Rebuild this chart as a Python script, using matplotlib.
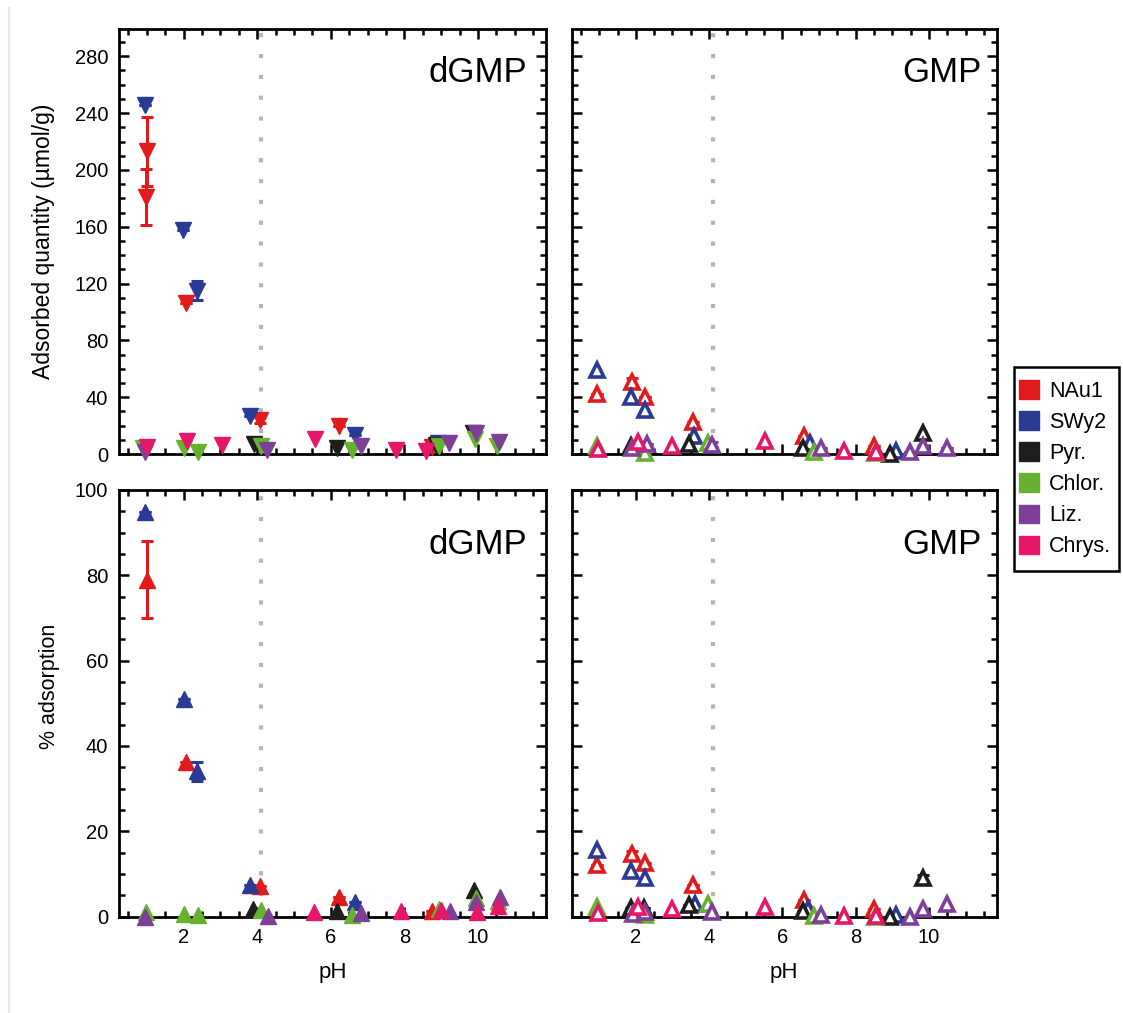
import matplotlib
matplotlib.use("Agg")
import matplotlib.pyplot as plt
from matplotlib.patches import Patch, Rectangle
from matplotlib.lines import Line2D
from matplotlib.ticker import MultipleLocator

plt.rcParams['font.family'] = ['Liberation Sans', 'DejaVu Sans']

minerals = ["NAu1", "SWy2", "Pyr.", "Chlor.", "Liz.", "Chrys."]
colors = ["#e31a1c", "#2b3a94", "#1e1e1e", "#66b22e", "#7d3f97", "#e6176a"]

# dGMP, adsorbed quantity (umol/g)
dq_min = ["NAu1"] * 6 + ["SWy2"] * 6 + ["Pyr."] * 4 + ["Chlor."] * 8 + ["Liz."] * 6 + ["Chrys."] * 6
dq_ph = [1.00, 0.97, 2.07, 4.07, 6.23, 8.76,
         0.96, 1.98, 2.35, 3.81, 6.65, 8.91,
         3.90, 6.17, 8.85, 9.86,
         0.90, 2.00, 2.38, 4.10, 6.58, 8.94, 9.91, 10.53,
         0.94, 4.27, 6.83, 9.21, 9.94, 10.57,
         1.00, 2.10, 3.04, 5.56, 7.76, 8.58]
dq_val = [213, 181, 106.5, 24, 19.5, 5,
          245.5, 158, 115, 27, 13.5, 7.5,
          7, 4.5, 6.5, 14.5,
          4.5, 4, 1.5, 6, 2.5, 6, 10.5, 5.5,
          1.5, 3, 6, 7.5, 14.5, 8.5,
          5, 9.5, 6.5, 10.5, 2.5, 2]
dq_err = [24, 19.5, 0, 2, 0, 0,
          0, 0, 6.7, 0, 0, 0,
          0, 0, 0, 0,
          0, 0, 0, 0, 0, 0, 0, 0,
          0, 0, 0, 0, 0, 0,
          0, 0, 0, 0, 0, 0]

# dGMP, % adsorption
dp_min = ["NAu1"] * 5 + ["SWy2"] * 5 + ["Pyr."] * 3 + ["Chlor."] * 8 + ["Liz."] * 6 + ["Chrys."] * 5
dp_ph = [1.00, 2.07, 4.07, 6.22, 8.76,
         0.96, 2.00, 2.35, 3.81, 6.65,
         3.88, 6.17, 9.89,
         0.98, 2.00, 2.38, 4.09, 6.58, 8.94, 9.94, 10.55,
         0.94, 4.30, 6.83, 9.24, 9.96, 10.59,
         5.54, 7.92, 9.00, 9.98, 10.54]
dp_val = [79, 36.3, 7.1, 4.7, 1.3,
          94.9, 51, 34.1, 7.5, 3.5,
          1.7, 1.3, 6.3,
          1.2, 0.7, 0.3, 1.5, 0.4, 1.8, 4.3, 3.7,
          0.0, 0.2, 0.8, 1.3, 3.5, 4.5,
          1.0, 1.3, 1.5, 1.2, 2.4]
dp_err = [9, 0, 0, 0, 0,
          0, 0, 2.2, 0, 0,
          0, 0, 0,
          0, 0, 0, 0, 0, 0, 0, 0,
          0, 0, 0, 0, 0, 0,
          0, 0, 0, 0, 0]

# GMP, adsorbed quantity (umol/g)
gq_min = ["NAu1"] * 6 + ["SWy2"] * 6 + ["Pyr."] * 5 + ["Chlor."] * 5 + ["Liz."] * 7 + ["Chrys."] * 6
gq_ph = [0.94, 1.89, 2.24, 3.55, 6.58, 8.49,
         0.94, 1.87, 2.26, 3.60, 6.74, 9.09,
         1.86, 3.45, 6.56, 8.93, 9.85,
         0.94, 2.24, 3.98, 6.87, 8.52,
         1.89, 2.30, 4.08, 7.05, 9.48, 9.85, 10.48,
         0.97, 2.07, 2.98, 5.52, 7.69, 8.55]
gq_val = [42.5, 50.7, 40.1, 22.3, 12.4, 5.9,
          58.9, 39.9, 31.2, 12.4, 7.7, 2.3,
          5.4, 7.0, 4.2, 0.0, 14.8,
          5.9, 0.7, 7.7, 1.2, 0.7,
          4.2, 7.0, 6.6, 4.2, 1.4, 5.4, 4.2,
          3.5, 8.2, 5.9, 8.9, 1.9, 1.2]
gq_err = [0, 2.5, 0, 0, 0, 0,
          0, 0, 0, 0, 0, 0,
          0, 0, 0, 0, 0,
          0, 0, 0, 0, 0,
          0, 0, 2, 0, 0, 0, 0,
          0, 0, 0, 0, 0, 0]

# GMP, % adsorption
gp_min = ["NAu1"] * 6 + ["SWy2"] * 6 + ["Pyr."] * 6 + ["Chlor."] * 5 + ["Liz."] * 7 + ["Chrys."] * 6
gp_ph = [0.94, 1.89, 2.24, 3.55, 6.58, 8.49,
         0.94, 1.87, 2.26, 3.62, 6.70, 9.09,
         1.86, 2.22, 3.45, 6.56, 8.93, 9.85,
         0.94, 2.24, 3.98, 6.87, 8.52,
         1.93, 2.26, 4.08, 7.05, 9.48, 9.85, 10.48,
         0.97, 2.07, 2.98, 5.52, 7.69, 8.55]
gp_val = [12.0, 14.8, 12.5, 7.4, 4.0, 1.7,
          15.7, 10.6, 9.0, 3.0, 1.8, 0.5,
          2.0, 2.0, 2.8, 1.4, 0.0, 9.0,
          2.2, 0.4, 3.0, 0.2, 0.0,
          0.6, 1.2, 1.2, 0.5, 0.0, 1.7, 3.0,
          0.9, 2.2, 1.7, 2.2, 0.2, 0.2]
gp_err = [0, 0.7, 0, 0, 0, 0,
          0, 0, 0, 0, 0, 0,
          0, 0, 0, 0, 0, 0.7,
          0, 0, 0, 0, 0,
          0, 0, 0, 0, 0, 0, 0,
          0, 0, 0, 0, 0, 0]

ph_boundary = 4.1

fig = plt.figure(figsize=(11.23, 10.13), dpi=100)
ax_tl = fig.add_axes([0.1062, 0.5518, 0.3800, 0.4193])
ax_tr = fig.add_axes([0.5091, 0.5518, 0.3785, 0.4193])
ax_bl = fig.add_axes([0.1062, 0.0951, 0.3800, 0.4212])
ax_br = fig.add_axes([0.5091, 0.0951, 0.3785, 0.4212])


def draw(ax, mins, ph, val, err, marker, filled):
    for name, c in zip(minerals, colors):
        idx = [i for i, m in enumerate(mins) if m == name]
        x = [ph[i] for i in idx]
        y = [val[i] for i in idx]
        e = [err[i] for i in idx]
        if any(e):
            ax.errorbar(x, y, yerr=e, fmt='none', ecolor=c, elinewidth=2.2,
                        capsize=4, capthick=2.2, zorder=3, clip_on=False)
        ax.plot(x, y, linestyle='none', marker=marker,
                ms=11 if filled else 10,
                mfc=c if filled else 'white', mec=c,
                mew=1 if filled else 2.6, zorder=4, clip_on=False)


draw(ax_tl, dq_min, dq_ph, dq_val, dq_err, 'v', True)
draw(ax_bl, dp_min, dp_ph, dp_val, dp_err, '^', True)
draw(ax_tr, gq_min, gq_ph, gq_val, gq_err, '^', False)
draw(ax_br, gp_min, gp_ph, gp_val, gp_err, '^', False)

for ax in (ax_tl, ax_tr, ax_bl, ax_br):
    ax.axvline(ph_boundary, color='#b5b5b5', lw=3, ls=(0, (1, 4)), zorder=1)
    ax.set_xlim(0.25, 11.85)
    ax.xaxis.set_major_locator(MultipleLocator(2))
    ax.xaxis.set_minor_locator(MultipleLocator(0.5))
    ax.tick_params(which='both', direction='in', top=True, right=True,
                   width=1.8, labelsize=14.5, pad=8)
    ax.tick_params(which='major', length=7)
    ax.tick_params(which='minor', length=4.5)
    for s in ax.spines.values():
        s.set_linewidth(2)

for ax in (ax_tl, ax_tr):
    ax.set_ylim(0, 299)
    ax.yaxis.set_major_locator(MultipleLocator(40))
    ax.yaxis.set_minor_locator(MultipleLocator(10))
    ax.tick_params(labelbottom=False)
for ax in (ax_bl, ax_br):
    ax.set_ylim(0, 100)
    ax.yaxis.set_major_locator(MultipleLocator(20))
    ax.yaxis.set_minor_locator(MultipleLocator(5))
    ax.set_xlabel("pH", fontsize=16, labelpad=11)
for ax in (ax_tr, ax_br):
    ax.tick_params(labelleft=False)

ax_tl.set_ylabel("Adsorbed quantity (\u00b5mol/g)", fontsize=16.5)
ax_tl.yaxis.set_label_coords(-0.151, 0.5)
ax_bl.set_ylabel("% adsorption", fontsize=15.5)
ax_bl.yaxis.set_label_coords(-0.139, 0.54)

ax_tl.text(0.955, 0.877, "dGMP", transform=ax_tl.transAxes, ha='right', va='baseline', fontsize=25)
ax_tr.text(0.965, 0.877, "GMP", transform=ax_tr.transAxes, ha='right', va='baseline', fontsize=25)
ax_bl.text(0.955, 0.85, "dGMP", transform=ax_bl.transAxes, ha='right', va='baseline', fontsize=25)
ax_br.text(0.965, 0.85, "GMP", transform=ax_br.transAxes, ha='right', va='baseline', fontsize=25)

# legend box drawn by hand, entries placed by fig.legend without frame
fig.add_artist(Rectangle((1014 / 1123, 1 - 571 / 1013), 105 / 1123, 204 / 1013,
                         transform=fig.transFigure, fill=False, ec='black', lw=1.8))
handles = [Patch(facecolor=c, edgecolor=c, label=m) for m, c in zip(minerals, colors)]
fig.legend(handles=handles, loc='upper left', bbox_to_anchor=(1019 / 1123, 1 - 380 / 1013),
           fontsize=15.5, frameon=False, handlelength=0.95, handleheight=0.95,
           handletextpad=0.45, labelspacing=0.44, borderpad=0, borderaxespad=0)

# faint page edge on the left
fig.add_artist(Line2D([0.008, 0.008], [0.0, 0.992], color='#e6e6e6', lw=1.5))

fig.savefig("out.png", dpi=100)
